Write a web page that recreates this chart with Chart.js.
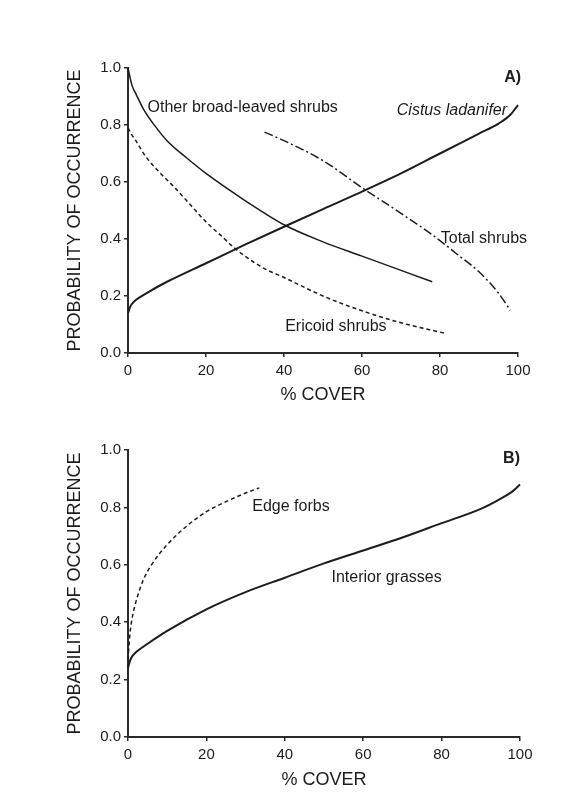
<!DOCTYPE html>
<html>
<head>
<meta charset="utf-8">
<script src="https://cdn.jsdelivr.net/npm/chart.js@4/dist/chart.umd.min.js"></script>
<style>
  html, body { margin: 0; padding: 0; background: #fff; }
  body { width: 575px; height: 805px; position: relative; overflow: hidden; }
  .box { position: absolute; left: 0; width: 575px; }
  #boxA { top: 0; height: 410px; }
  #boxB { top: 410px; height: 395px; }
</style>
</head>
<body>
<div class="box" id="boxA"><canvas id="chartA"></canvas></div>
<div class="box" id="boxB"><canvas id="chartB"></canvas></div>
<script>
// Panel A - shrubs
const otherX = [0, 1, 2, 4, 7, 10, 15, 20, 30, 40, 50, 60, 70, 78];
const otherY = [1.0, 0.94, 0.91, 0.855, 0.795, 0.745, 0.685, 0.63, 0.535, 0.45, 0.39, 0.34, 0.29, 0.25];

const ericoidX = [0, 1, 2, 4.5, 8, 12, 16, 20, 24, 27, 30, 35, 40, 50, 60, 70, 81];
const ericoidY = [0.79, 0.765, 0.745, 0.69, 0.635, 0.58, 0.52, 0.46, 0.41, 0.372, 0.34, 0.296, 0.265, 0.2, 0.148, 0.106, 0.07];

const cistusX = [0, 0.5, 1, 2, 5, 10, 20, 30, 40, 50, 60, 70, 80, 90, 95, 98, 100];
const cistusY = [0.14, 0.16, 0.172, 0.186, 0.212, 0.25, 0.315, 0.38, 0.443, 0.505, 0.566, 0.63, 0.70, 0.77, 0.805, 0.835, 0.87];

const totalX = [35, 40, 50, 60, 70, 78, 85, 90, 95, 98];
const totalY = [0.775, 0.745, 0.675, 0.58, 0.49, 0.415, 0.34, 0.285, 0.21, 0.15];

// Panel B - herbs
const grassX = [0, 0.5, 1, 2, 5, 10, 20, 30, 40, 50, 60, 70, 80, 90, 95, 98, 100];
const grassY = [0.24, 0.265, 0.28, 0.295, 0.325, 0.37, 0.445, 0.505, 0.555, 0.605, 0.65, 0.695, 0.745, 0.795, 0.83, 0.855, 0.88];

const forbX = [0, 0.5, 1, 2, 4, 6, 10, 15, 20, 25, 30, 33.5];
const forbY = [0.27, 0.36, 0.41, 0.47, 0.55, 0.6, 0.67, 0.735, 0.785, 0.82, 0.85, 0.868];

const xTitle = "% COVER";
const yTitle = "PROBABILITY OF OCCURRENCE";

// text labels inside the plots, in data units
const labelsA = [
  { text: "Other broad-leaved shrubs", x: 5, y: 0.862, align: "left" },
  { text: "Cistus ladanifer", x: 97.2, y: 0.851, align: "right", style: "italic" },
  { text: "A)", x: 100.8, y: 0.967, align: "right", weight: "bold" },
  { text: "Total shrubs", x: 80.2, y: 0.403, align: "left" },
  { text: "Ericoid shrubs", x: 40.3, y: 0.091, align: "left" }
];
const labelsB = [
  { text: "B)", x: 100, y: 0.969, align: "right", weight: "bold" },
  { text: "Edge forbs", x: 31.7, y: 0.803, align: "left" },
  { text: "Interior grasses", x: 51.9, y: 0.557, align: "left" }
];

const FONT = "'Liberation Sans', Arial, Helvetica, sans-serif";
const INK = "#1c1c1c";

function pts(xs, ys) {
  return xs.map((x, i) => ({ x: x, y: ys[i] }));
}

function curve(xs, ys, width, dash) {
  return {
    data: pts(xs, ys),
    showLine: true,
    borderColor: INK,
    borderWidth: width,
    borderDash: dash || [],
    pointRadius: 0,
    cubicInterpolationMode: "monotone",
    clip: false
  };
}

const labelPlugin = {
  id: "plotLabels",
  afterDatasetsDraw(chart, args, opts) {
    const ctx = chart.ctx;
    const xs = chart.scales.x, ys = chart.scales.y;
    ctx.save();
    ctx.fillStyle = INK;
    ctx.textBaseline = "middle";
    opts.items.forEach(l => {
      ctx.font = (l.style || "normal") + " " + (l.weight || "normal") + " 16px " + FONT;
      ctx.textAlign = l.align;
      ctx.fillText(l.text, xs.getPixelForValue(l.x), ys.getPixelForValue(l.y));
    });
    ctx.restore();
  }
};

function makeChart(id, datasets, labels, pad, xHeight) {
  return new Chart(document.getElementById(id), {
    type: "scatter",
    data: { datasets: datasets },
    plugins: [labelPlugin],
    options: {
      responsive: true,
      maintainAspectRatio: false,
      animation: false,
      layout: { padding: pad },
      plugins: {
        legend: { display: false },
        tooltip: { enabled: false },
        plotLabels: { items: labels }
      },
      scales: {
        x: {
          type: "linear",
          min: 0, max: 100,
          afterFit: s => { s.height = xHeight; s.paddingLeft = 0; s.paddingRight = 0; },
          border: { display: true, color: "#2a2a2a", width: 2 },
          grid: { display: true, drawOnChartArea: false, drawTicks: true, tickLength: 4, color: "#2a2a2a", lineWidth: 1.5 },
          ticks: { stepSize: 20, padding: 5, color: INK, font: { family: FONT, size: 15 } },
          title: { display: true, text: xTitle, color: INK, padding: { top: 0, bottom: 0 }, font: { family: FONT, size: 18 } }
        },
        y: {
          type: "linear",
          min: 0, max: 1,
          afterFit: s => { s.width = 128; s.paddingTop = 0; s.paddingBottom = 0; },
          border: { display: true, color: "#2a2a2a", width: 2 },
          grid: { display: true, drawOnChartArea: false, drawTicks: true, tickLength: 4, color: "#2a2a2a", lineWidth: 1.5 },
          ticks: { stepSize: 0.2, padding: 3, color: INK, font: { family: FONT, size: 15 },
                   callback: v => v.toFixed(1) },
          title: { display: true, text: yTitle, color: INK, padding: { top: 64, bottom: 0 }, font: { family: FONT, size: 18 } }
        }
      }
    }
  });
}

makeChart("chartA", [
  curve(otherX, otherY, 1.5),
  curve(ericoidX, ericoidY, 1.5, [4, 3]),
  curve(cistusX, cistusY, 2),
  curve(totalX, totalY, 1.5, [9, 3, 2, 3])
], labelsA, { left: 0, right: 57, top: 68, bottom: 4 }, 53);

makeChart("chartB", [
  curve(grassX, grassY, 2),
  curve(forbX, forbY, 1.5, [4, 3])
], labelsB, { left: 0, right: 55, top: 40, bottom: 14 }, 54);
</script>
</body>
</html>
